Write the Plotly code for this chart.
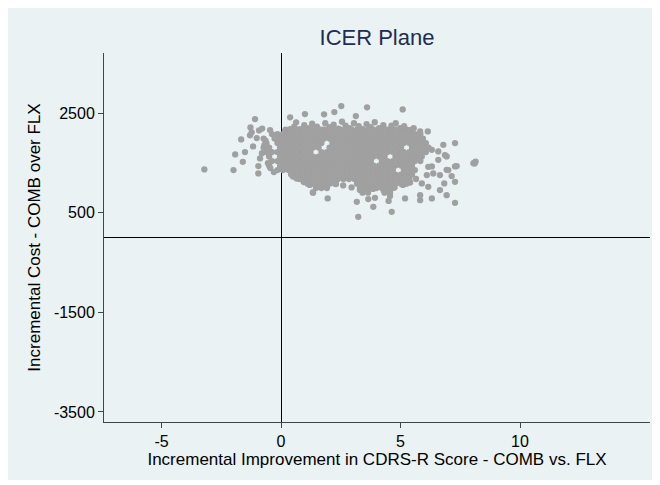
import plotly.graph_objects as go

# ---- data ----
# Dense core of the bootstrap cloud, as rows: cost level and the improvement values on that row
core_y = [2173, 2083, 1992, 1902, 1811, 1721, 1630, 1540, 1449, 1359, 1268, 1178, 1087, 997, 906]
row02 = [0.19, 0.42, 0.65, 0.88, 1.11, 1.34, 1.57, 1.80, 2.03, 2.26, 2.49, 2.72, 2.95, 3.18, 3.41,
         3.64, 3.87, 4.10, 4.33, 4.56, 4.79, 5.02, 5.25, 5.48]
row03 = [-0.38, -0.15, 0.08, 0.31, 0.54, 0.77, 1.00, 1.23, 1.46, 1.69, 1.92, 2.15, 2.38, 2.61,
         2.84, 3.07, 3.30, 3.53, 3.76, 3.99, 4.22, 4.45, 4.68, 4.91, 5.14, 5.37, 5.60, 5.83]
row04 = [-0.73, -0.27, -0.04, 0.19, 0.42, 0.65, 0.88, 1.11, 1.34, 1.57, 1.80, 2.03, 2.26, 2.49,
         2.72, 2.95, 3.18, 3.41, 3.64, 3.87, 4.10, 4.33, 4.56, 4.79, 5.02, 5.25, 5.48, 5.71, 5.94]
row05 = [-0.61, -0.15, 0.08, 0.31, 0.54, 0.77, 1.00, 1.23, 1.46, 1.69, 2.15, 2.38,
         2.61, 2.84, 3.07, 3.30, 3.53, 3.76, 3.99, 4.22, 4.45, 4.68, 4.91, 5.14, 5.37, 5.60, 5.83, 6.06]
row06 = [-0.73, -0.50, -0.04, 0.19, 0.42, 0.65, 0.88, 1.11, 1.34, 1.57, 2.03, 2.26, 2.49,
         2.72, 2.95, 3.18, 3.41, 3.64, 3.87, 4.10, 4.33, 4.56, 4.79, 5.02, 5.48, 5.71, 5.94, 6.17]
row07 = [-0.61, -0.38, -0.15, 0.08, 0.31, 0.54, 0.77, 1.00, 1.23, 1.69, 1.92, 2.15, 2.38, 2.61,
         2.84, 3.07, 3.30, 3.53, 3.76, 3.99, 4.22, 4.45, 4.68, 4.91, 5.14, 5.37, 5.60, 5.83, 6.06]
row08 = [-0.50, -0.04, 0.19, 0.42, 0.65, 0.88, 1.11, 1.34, 1.57, 1.80, 2.03, 2.26, 2.49, 2.72,
         2.95, 3.18, 3.41, 3.64, 3.87, 4.10, 4.33, 4.79, 5.02, 5.25, 5.48, 5.71]
row09 = [-0.38, -0.15, 0.08, 0.31, 0.54, 0.77, 1.00, 1.23, 1.46, 1.69, 1.92, 2.15, 2.38, 2.61, 2.84,
         3.07, 3.30, 3.53, 3.76, 4.22, 4.45, 4.68, 4.91, 5.14, 5.37, 5.60, 5.83]
row10 = [-0.50, -0.04, 0.19, 0.42, 0.65, 0.88, 1.11, 1.34, 1.57, 1.80, 2.03, 2.26, 2.49, 2.72,
         2.95, 3.18, 3.41, 3.64, 3.87, 4.10, 4.33, 4.56, 4.79, 5.02, 5.25, 5.48]
row11 = [-0.15, 0.08, 0.31, 0.54, 0.77, 1.00, 1.23, 1.46, 1.69, 1.92, 2.15, 2.38, 2.61, 2.84,
         3.07, 3.30, 3.53, 3.76, 3.99, 4.22, 4.45, 4.68, 5.14, 5.37, 5.60]
row12 = [0.42, 0.65, 0.88, 1.11, 1.34, 1.57, 1.80, 2.03, 2.26, 2.49, 2.72, 2.95, 3.18, 3.41, 3.64,
         3.87, 4.10, 4.33, 4.56, 4.79, 5.02, 5.25, 5.48]
row13 = [0.77, 1.00, 1.23, 1.46, 1.69, 1.92, 2.15, 2.38, 2.61, 2.84, 3.07, 3.30, 3.53, 3.76, 3.99,
         4.22, 4.45, 4.68, 4.91, 5.14, 5.37]
row14 = [1.11, 1.34, 1.57, 1.80, 2.03, 2.26, 3.18, 3.41, 3.64, 3.87, 4.10, 4.33,
         4.56, 4.79, 5.02, 5.25]
row15 = [1.46, 1.69, 1.92, 3.30, 3.53, 3.76, 3.99, 4.22, 4.45, 4.68]
row16 = [1.34, 3.41, 3.64, 4.33, 4.56]
core_rows = [row02, row03, row04, row05, row06, row07, row08,
             row09, row10, row11, row12, row13, row14, row15, row16]

# Ragged upper edge of the cloud
top_x = [0.17, 0.38, 0.55, 0.79, 0.97, 1.15, 1.30, 1.50, 1.68, 1.85, 2.02, 2.20, 2.40, 2.55, 2.70,
         2.88, 3.05, 3.25, 3.40, 3.58, 3.75, 3.92, 4.10, 4.28, 4.45, 4.62, 4.80, 4.98, 5.15, 5.35, 5.55]
top_y = [2143, 2183, 2230, 2183, 2260, 2200, 2290, 2230, 2170, 2300, 2220, 2270, 2190, 2330, 2250,
         2200, 2300, 2240, 2180, 2280, 2220, 2320, 2200, 2260, 2170, 2250, 2300, 2200, 2240, 2160, 2200]

# Ragged lower and left edge of the cloud
edge_x = [0.50, 0.65, 0.95, 1.20, 1.55, 1.80, 2.30, 2.60, 2.95, 3.30, 3.85, 4.30, 4.75, 5.10, 5.40,
          5.65, -0.70, -0.55, -0.65, -0.80, -0.45, -0.30]
edge_y = [1230, 1190, 1120, 1060, 1020, 1040, 1080, 1050, 1010, 960, 980, 950, 1010, 1060, 1110,
          1180, 1860, 1500, 1950, 1700, 1400, 1320]

# Scattered points around the core
out_x = [-3.21, -1.99, -1.09, -1.67, -1.92, -1.60, -1.51, -0.95, -1.28, -1.23, -0.92, -1.30, -1.02,
         -1.17, -0.95, -0.88, -0.79, -0.46, 0.38, 1.00, 1.80, 2.23, 2.52, 3.13, 3.60, 5.09, 0.63,
         5.82, 6.14, 6.79, 7.28, 6.58, 6.93, 6.58, 6.31, 8.05, 8.10, 8.14, 7.28, 6.93, 6.31, 5.89,
         6.16, 6.37, 6.65, 7.00, 7.35, 7.14, 7.28, 6.83, 6.10, 5.89, 6.16, 6.65, 5.82, 5.82, 6.31,
         6.93, 7.28, 6.86, 5.19, 4.56, 4.63, 3.23, 3.86, 3.65, 3.93, 3.17, 1.95, 1.33, 4.50]
out_y = [1373, 1359, 2384, 1976, 1674, 1526, 1721, 1292, 2217, 2117, 2157, 2057, 2002,
         1835, 1439, 1594, 2193, 2163, 2419, 2485, 2479, 2525, 2646, 2445, 2620, 2579, 2318,
         2137, 2137, 1867, 1902, 1735, 1634, 1566, 1767, 1499, 1493, 1530, 1433, 1365, 1433, 1634,
         1425, 1292, 1258, 1359, 1439, 1238, 1123, 1091, 1258, 1091, 1023, 957, 856, 755, 790,
         856, 701, 1661, 790, 836, 520, 420, 621, 776, 802, 721, 790, 910, 740]

x_ticks = [-5, 0, 5, 10]
y_ticks = [-3500, -1500, 500, 2500]
x_range = [-7.41, 15.44]
y_range = [-3703, 3712]

# ---- assemble ----
xs, ys = [], []
for yv, row in zip(core_y, core_rows):
    xs.extend(row)
    ys.extend([yv] * len(row))
for px_, py_ in ((top_x, top_y), (edge_x, edge_y), (out_x, out_y)):
    xs.extend(px_)
    ys.extend(py_)

BG = "#EAF2F3"
FONT = "Liberation Sans, Arial, sans-serif"

fig = go.Figure()
fig.add_trace(go.Scatter(
    x=xs, y=ys, mode="markers",
    marker=dict(size=6.3, color="#a0a0a0", line=dict(width=0)),
    showlegend=False, hoverinfo="skip",
))

# page body has an 8px margin, so the figure is sized to fit the window
W, H = 652, 477
L, R, T, B = 96, 10, 45, 63
pw, ph = W - L - R, H - T - B

fig.add_shape(type="rect", xref="paper", yref="paper", layer="below",
              x0=(0 - L) / pw, x1=(647 - L) / pw,
              y0=(H - B - 472) / ph, y1=(H - B) / ph + 0.05,
              fillcolor=BG, line=dict(width=0))

fig.update_layout(
    width=W, height=H,
    margin=dict(l=L, r=R, t=T, b=B),
    paper_bgcolor="white",
    plot_bgcolor="white",
    font=dict(family=FONT, size=16, color="#000000"),
    title=dict(text="ICER Plane", x=0.5, xref="paper", xanchor="center",
               y=1 - 29 / H, yref="container", yanchor="middle",
               font=dict(family=FONT, size=22, color="#1e2d53")),
    xaxis=dict(
        range=x_range, tickvals=x_ticks, ticktext=[str(v) for v in x_ticks],
        showgrid=False, zeroline=True, zerolinecolor="#000000", zerolinewidth=1,
        showline=True, linecolor="#444444", linewidth=1,
        ticks="outside", ticklen=5, tickcolor="#444444",
        tickfont=dict(size=16), automargin=False,
        title=dict(text="Incremental Improvement in CDRS-R Score - COMB vs. FLX",
                   font=dict(size=17), standoff=0),
    ),
    yaxis=dict(
        range=y_range, tickvals=y_ticks, ticktext=[str(v) for v in y_ticks],
        showgrid=True, gridcolor=BG, gridwidth=1,
        zeroline=True, zerolinecolor="#000000", zerolinewidth=1,
        showline=True, linecolor="#444444", linewidth=1,
        ticks="outside", ticklen=5, tickcolor="#444444",
        tickfont=dict(size=16), automargin=False,
        title=dict(text="Incremental Cost - COMB over FLX", font=dict(size=17), standoff=8),
    ),
)

fig.write_html("out.html")
